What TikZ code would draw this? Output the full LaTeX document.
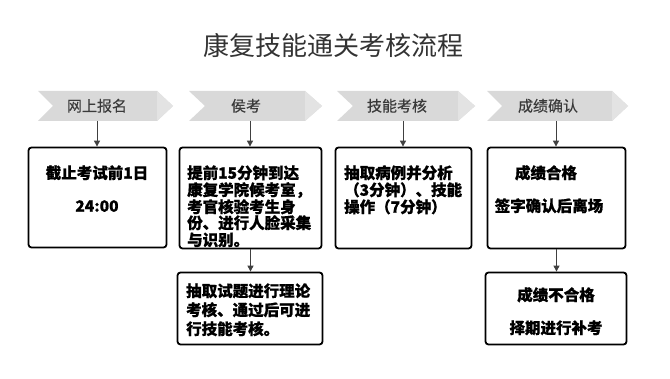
\documentclass[tikz,border=0pt]{standalone}
\usepackage{fontspec}
\newfontfamily\cjk{Noto Sans CJK SC}
\newfontfamily\cjkheavy[BoldFeatures={FakeBold=0.8}]{Noto Sans CJK SC}
\newfontfamily\cjkmed[FakeBold=0.4]{Noto Sans CJK SC}
\usetikzlibrary{arrows.meta}
\definecolor{chevbody}{HTML}{D9D9D9}
\definecolor{chevtip}{HTML}{E3E3E3}
\definecolor{chevtext}{HTML}{3A3A3A}
\definecolor{arrcol}{HTML}{404040}
\definecolor{titlecol}{HTML}{333333}
\tikzset{
  stagebox/.style={draw=black, line width=1.8pt, rounded corners=3pt, inner sep=0pt},
  chevlabel/.style={font=\cjkmed\fontsize{15}{18}\selectfont, text=chevtext, inner sep=0pt, anchor=base},
  boxline/.style={font=\cjkheavy\bfseries\fontsize{15.5}{18}\selectfont, text=black, inner sep=0pt},
  arr/.style={draw=arrcol, line width=1pt, -{Triangle[length=6pt,width=6pt]}},
}
\newcommand{\chevron}[4]{% left, notch, bodyright, tip
  \fill[chevbody] (#1,91) -- (#3,91) -- (#4,106) -- (#3,121) -- (#1,121) -- (#2,106) -- cycle;
  \fill[chevtip] (#3,91) -- (#4,106) -- (#3,121) -- cycle;
}
\begin{document}
\begin{tikzpicture}[x=1pt,y=-1pt]
\useasboundingbox (0,0) rectangle (670,379);
\fill[white] (0,0) rectangle (670,379);

% title
\node[font=\cjk\fontsize{26}{30}\selectfont, text=titlecol, inner sep=0pt, anchor=base] (title) at (333,55.6) {康复技能通关考核流程};

% chevrons
\chevron{38}{53}{157}{173}
\chevron{189}{205}{305}{322}
\chevron{337}{353}{458}{475}
\chevron{487}{502}{612}{628}
\node[chevlabel] (c1) at (97,111.5) {网上报名};
\node[chevlabel] (c2) at (246,111.5) {侯考};
\node[chevlabel] (c3) at (397,111.5) {技能考核};
\node[chevlabel] (c4) at (548,111.5) {成绩确认};
\coordinate (c1b) at (97,121);
\coordinate (c2b) at (250,121);
\coordinate (c3b) at (403,121);
\coordinate (c4b) at (556,121);

% boxes
\node[stagebox, minimum width=138pt, minimum height=100pt] (b1) at (97.5,197.5) {};
\node[stagebox, minimum width=142pt, minimum height=101pt] (b2) at (250.5,198) {};
\node[stagebox, minimum width=136pt, minimum height=101pt] (b3) at (403.5,198) {};
\node[stagebox, minimum width=138pt, minimum height=101pt] (b4) at (556.5,198) {};
\node[stagebox, minimum width=145pt, minimum height=72pt] (b5) at (250,308.5) {};
\node[stagebox, minimum width=141pt, minimum height=72pt] (b6) at (556,308.5) {};

% box texts
\node[boxline, anchor=base] (t1a) at (97,178.7) {截止考试前1日};
\node[boxline, anchor=base] (t1b) at (97,211.7) {24:00};

\node[boxline, anchor=base west] (t2a) at (187,178.7) {提前15分钟到达};
\node[boxline, anchor=base west] (t2b) at (187,195.7) {康复学院候考室，};
\node[boxline, anchor=base west] (t2c) at (187,212.7) {考官核验考生身};
\node[boxline, anchor=base west] (t2d) at (187,228.7) {份、进行人脸采集};
\node[boxline, anchor=base west] (t2e) at (187,245.7) {与识别。};

\node[boxline, anchor=base west] (t3a) at (344,178.7) {抽取病例并分析};
\node[boxline, anchor=base west] (t3b) at (344,195.7) {（3分钟）、技能};
\node[boxline, anchor=base west] (t3c) at (344,212.7) {操作（7分钟）};

\node[boxline, anchor=base] (t4a) at (546,178.7) {成绩合格};
\node[boxline, anchor=base] (t4b) at (549,211.7) {签字确认后离场};

\node[boxline, anchor=base west] (t5a) at (186,296.7) {抽取试题进行理论};
\node[boxline, anchor=base west] (t5b) at (186,315.7) {考核、通过后可进};
\node[boxline, anchor=base west] (t5c) at (186,334.7) {行技能考核。};

\node[boxline, anchor=base] (t6a) at (556,300.7) {成绩不合格};
\node[boxline, anchor=base] (t6b) at (556,333.7) {择期进行补考};

% connectors
\draw[arr] (c1b) -- (c1b |- b1.north);
\draw[arr] (c2b) -- (c2b |- b2.north);
\draw[arr] (c3b) -- (c3b |- b3.north);
\draw[arr] (c4b) -- (c4b |- b4.north);
\draw[arr] (b2.south) -- (b5.north -| b2.south);
\draw[arr] (b4.south) -- (b6.north -| b4.south);
\end{tikzpicture}
\end{document}
